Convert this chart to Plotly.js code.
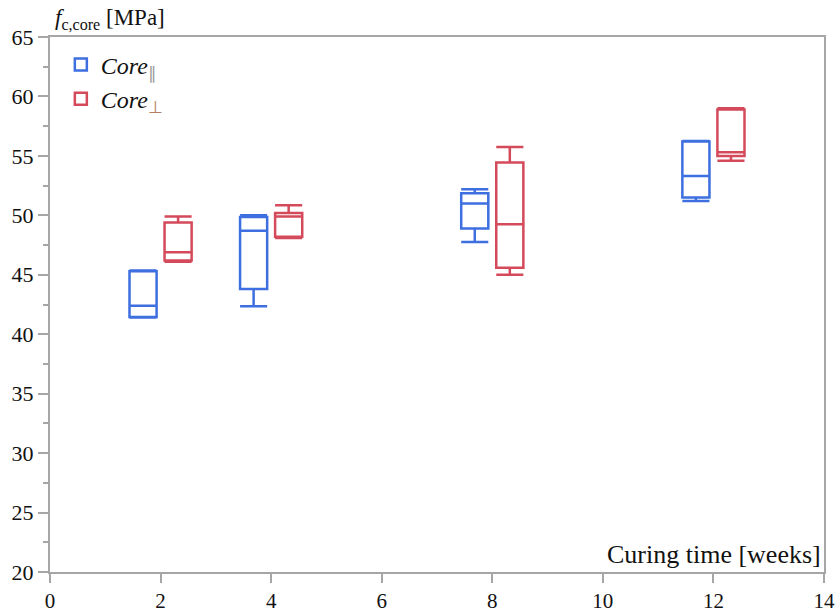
<!DOCTYPE html>
<html>
<head>
<meta charset="utf-8">
<script src="https://cdn.plot.ly/plotly-3.0.1.min.js"></script>
<style>html,body{margin:0;padding:0;background:#fff;}#chart{width:837px;height:613px;}</style>
</head>
<body>
<div id="chart"></div>
<script>
// Curing time in weeks
var weeks = [2, 4, 8, 12];

// Core parallel (blue)
var parLower  = [41.4, 42.35, 47.75, 51.2];
var parQ1     = [41.45, 43.8, 48.9, 51.5];
var parMedian = [42.4, 48.7, 51.0, 53.3];
var parQ3     = [45.3, 49.85, 51.85, 56.2];
var parUpper  = [45.35, 50.0, 52.2, 56.25];

// Core perpendicular (red)
var perLower  = [46.1, 48.1, 45.0, 54.6];
var perQ1     = [46.2, 48.2, 45.6, 55.0];
var perMedian = [46.9, 49.9, 49.25, 55.3];
var perQ3     = [49.4, 50.2, 54.45, 58.9];
var perUpper  = [49.9, 50.85, 55.75, 59.0];

var xTicks = [0, 2, 4, 6, 8, 10, 12, 14];
var yTicks = [20, 25, 30, 35, 40, 45, 50, 55, 60, 65];

var blue = '#3d6fe0';
var red = '#d44a5b';

var traces = [
  {
    type: 'box', name: '<i>Core</i><sub><span style="color:#999">∥</span></sub>',
    x: weeks, q1: parQ1, median: parMedian, q3: parQ3,
    lowerfence: parLower, upperfence: parUpper,
    boxpoints: false, whiskerwidth: 1,
    line: {color: blue, width: 2.5}, fillcolor: 'rgba(255,255,255,0)',
    hoverinfo: 'skip'
  },
  {
    type: 'box', name: '<i>Core</i><sub><span style="color:#b08060">⊥</span></sub>',
    x: weeks, q1: perQ1, median: perMedian, q3: perQ3,
    lowerfence: perLower, upperfence: perUpper,
    boxpoints: false, whiskerwidth: 1,
    line: {color: red, width: 2.5}, fillcolor: 'rgba(255,255,255,0)',
    hoverinfo: 'skip'
  }
];

var axisColor = '#a6a6a6';
var layout = {
  width: 837, height: 613,
  margin: {l: 50, r: 13, t: 37, b: 41},
  paper_bgcolor: '#fff', plot_bgcolor: '#fff',
  font: {family: 'Liberation Serif, Times New Roman, serif', size: 22, color: '#111'},
  boxmode: 'group', boxgap: 0.366, boxgroupgap: 0.227,
  showlegend: true,
  legend: {x: 0.014, y: 0.99, xanchor: 'left', yanchor: 'top',
           bgcolor: 'rgba(255,255,255,0)', font: {size: 24},
           tracegroupgap: 0, itemwidth: 30},
  xaxis: {
    range: [0, 14], tickvals: xTicks, ticktext: xTicks.map(String),
    showgrid: false, zeroline: false,
    showline: true, linecolor: axisColor, linewidth: 2, mirror: true,
    ticks: 'outside', ticklen: 9, tickwidth: 2, tickcolor: axisColor,
    tickfont: {size: 21}
  },
  yaxis: {
    range: [20, 65], tickvals: yTicks, ticktext: yTicks.map(String),
    showgrid: false, zeroline: false,
    showline: true, linecolor: axisColor, linewidth: 2, mirror: true,
    ticks: 'outside', ticklen: 10, tickwidth: 2, tickcolor: axisColor,
    tickfont: {size: 22},
    minor: {dtick: 2.5, ticks: 'outside', ticklen: 5, tickwidth: 2, tickcolor: axisColor, showgrid: false}
  },
  annotations: [
    {text: '<i>f</i><sub>c,core</sub> [MPa]', xref: 'paper', yref: 'paper',
     x: 0, y: 1, xanchor: 'left', yanchor: 'bottom', yshift: 2, xshift: 3,
     showarrow: false, font: {size: 23}},
    {text: 'Curing time [weeks]', xref: 'paper', yref: 'paper',
     x: 1, y: 0, xanchor: 'right', yanchor: 'bottom', xshift: -1, yshift: 1,
     showarrow: false, font: {size: 26}}
  ]
};

Plotly.newPlot('chart', traces, layout, {displayModeBar: false, staticPlot: true});
</script>
</body>
</html>
